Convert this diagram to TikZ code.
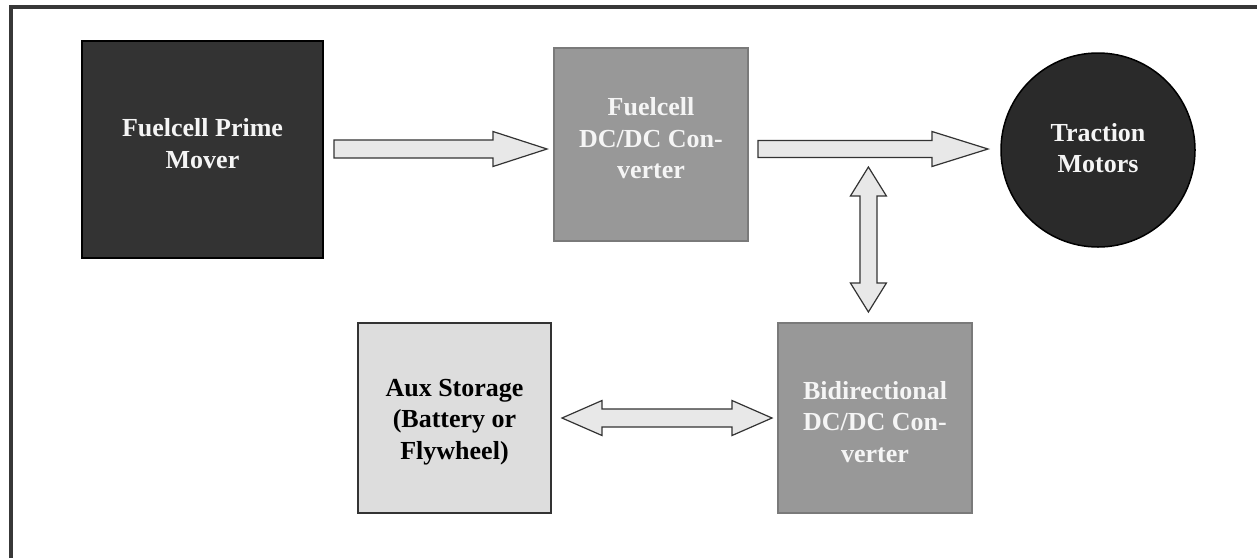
\documentclass[tikz,border=0pt]{standalone}
\usepackage{fontspec}
\setmainfont{Liberation Serif}
\usetikzlibrary{calc}
\definecolor{pmfill}{HTML}{333333}
\definecolor{tmfill}{HTML}{2A2A2A}
\definecolor{fcfill}{HTML}{989898}
\definecolor{fcdraw}{HTML}{7A7A7A}
\definecolor{auxfill}{HTML}{DDDDDD}
\definecolor{arrfill}{HTML}{E8E8E8}
\definecolor{dark}{HTML}{333333}
\definecolor{framecol}{HTML}{383838}
\definecolor{lighttext}{HTML}{F5F5F5}
\tikzset{
  boxbase/.style={rectangle, inner sep=0pt, outer sep=0pt},
  pmbox/.style={boxbase, fill=pmfill, draw=black, line width=1.5pt},
  fcbox/.style={boxbase, fill=fcfill, draw=fcdraw, line width=2pt},
  auxbox/.style={boxbase, fill=auxfill, draw=dark, line width=1.5pt},
  tmcirc/.style={circle, inner sep=0pt, outer sep=0pt, fill=tmfill, draw=black, line width=1.5pt},
  lbl/.style={inner sep=0pt, align=center, font=\bfseries\fontsize{26}{31.5}\selectfont},
  lbllight/.style={lbl, text=lighttext},
  lbldark/.style={lbl, text=black},
  blockarr/.style={fill=arrfill, draw=dark, line width=1.2pt, line join=miter},
  framestyle/.style={draw=framecol, line width=4pt, line join=miter}
}
\begin{document}
\begin{tikzpicture}[x=1pt,y=-1pt]
\useasboundingbox (0,0) rectangle (1257,558);
% frame (only top and left edges visible)
\draw[framestyle] (11,558) -- (11,7) -- (1257,7);

% boxes
\node[pmbox, minimum width=241pt, minimum height=217pt] (pm) at (202.5,149.5) {};
\node[fcbox, minimum width=194pt, minimum height=193pt] (fc) at (651,144.5) {};
\node[tmcirc, minimum size=194pt] (tm) at (1098,150) {};
\node[auxbox, minimum width=193pt, minimum height=190pt] (aux) at (454.5,418) {};
\node[fcbox, minimum width=194pt, minimum height=190pt] (bd) at (875,418) {};

% labels
\node[lbllight] (pmt) at ([yshift=6pt]pm.center) {Fuelcell Prime\\Mover};
\node[lbllight] (fct) at ([yshift=6pt]fc.center) {Fuelcell\\DC/DC Con-\\verter};
\node[lbllight] (tmt) at ([yshift=2pt]tm.center) {Traction\\Motors};
\node[lbldark] (auxt) at ([yshift=-4pt]aux.center) {Aux Storage\\(Battery or\\Flywheel)};
\node[lbllight] (bdt) at ([yshift=-4pt]bd.center) {Bidirectional\\DC/DC Con-\\verter};

% arrow 1: prime mover -> fuelcell converter
\coordinate (a1s) at ($(pm.east)+(11,-0.5)$);
\coordinate (a1e) at ($(a1s -| fc.west)+(-7,0)$);
\draw[blockarr] ($(a1s)+(0,-9)$) -- ($(a1e)+(-54,-9)$) -- ($(a1e)+(-54,-17.5)$) -- (a1e)
  -- ($(a1e)+(-54,17.5)$) -- ($(a1e)+(-54,9)$) -- ($(a1s)+(0,9)$) -- cycle;

% arrow 2: fuelcell converter -> traction motors
\coordinate (a2s) at ($(a1s -| fc.east)+(10,0)$);
\coordinate (a2e) at ($(a1s -| tm.west)+(-13,0)$);
\draw[blockarr] ($(a2s)+(0,-8.5)$) -- ($(a2e)+(-56,-8.5)$) -- ($(a2e)+(-56,-17.5)$) -- (a2e)
  -- ($(a2e)+(-56,17.5)$) -- ($(a2e)+(-56,8.5)$) -- ($(a2s)+(0,8.5)$) -- cycle;

% vertical double arrow: bus <-> bidirectional converter
\coordinate (j) at ($(a2s)!0.48!(a2e)$);
\coordinate (vt) at ($(j)+(0,18)$);
\coordinate (vb) at ($(j |- bd.north)+(0,-11)$);
\draw[blockarr] (vt) -- ($(vt)+(18,29)$) -- ($(vt)+(8.5,29)$) -- ($(vb)+(8.5,-29)$) -- ($(vb)+(18,-29)$)
  -- (vb) -- ($(vb)+(-18,-29)$) -- ($(vb)+(-8.5,-29)$) -- ($(vt)+(-8.5,29)$) -- ($(vt)+(-18,29)$) -- cycle;

% horizontal double arrow: aux storage <-> bidirectional converter
\coordinate (hl) at ($(aux.east)+(11,0)$);
\coordinate (hr) at ($(hl -| bd.west)+(-6,0)$);
\draw[blockarr] (hl) -- ($(hl)+(40,-17.5)$) -- ($(hl)+(40,-9)$) -- ($(hr)+(-40,-9)$) -- ($(hr)+(-40,-17.5)$)
  -- (hr) -- ($(hr)+(-40,17.5)$) -- ($(hr)+(-40,9)$) -- ($(hl)+(40,9)$) -- ($(hl)+(40,17.5)$) -- cycle;
\end{tikzpicture}
\end{document}
